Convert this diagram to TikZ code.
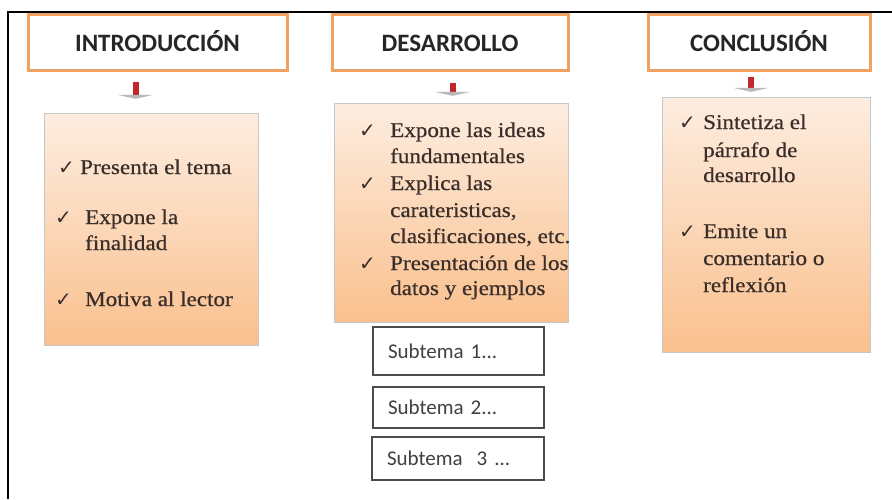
\documentclass[tikz,border=0pt]{standalone}
\usepackage{fontspec}
\setmainfont{Liberation Serif}[FakeStretch=1.1,FakeBold=0.6]
\newfontfamily\headfont{Carlito}
\newfontfamily\tickfont{DejaVu Sans}
\usetikzlibrary{arrows.meta}

\definecolor{boxorange}{HTML}{EFA262}
\definecolor{peachtop}{HTML}{FDEDE0}
\definecolor{peachbot}{HTML}{FAC08E}
\definecolor{arrowred}{HTML}{C1272D}
\definecolor{bodytext}{HTML}{3A2E2A}

\tikzset{
  head/.style={draw=boxorange, line width=3pt, fill=white, text=black!85,
    font=\headfont\bfseries\fontsize{25}{28}\selectfont, minimum height=56pt,
    text height=22pt, text depth=4pt},
  body/.style={draw=gray!45, top color=peachtop, bottom color=peachbot},
  item/.style={anchor=base west, inner sep=0pt, text=bodytext,
    font=\fontsize{21}{26}\selectfont},
  tick/.style={anchor=base west, inner sep=0pt, text=bodytext,
    font=\tickfont\fontsize{20}{20}\selectfont},
  sub/.style={draw=black!70, line width=1.2pt, fill=white, text=black!75,
    font=\headfont\fontsize{21}{22}\selectfont, align=left, inner xsep=15pt},
  link/.style={arrowred, line width=6pt,
    -{Triangle[width=36pt,length=4pt,color=gray!55]}}
}

\begin{document}
\begin{tikzpicture}[x=1pt,y=-1pt]
\useasboundingbox (0,0) rectangle (892,499);
\draw[line width=1.5pt] (8,499) -- (8,12) -- (892,12);

% encabezados
\node[head, minimum width=259pt] (intro) at (157.5,42) {INTRODUCCIÓN};
\node[head, minimum width=236pt] (desa) at (450,42) {DESARROLLO};
\node[head, minimum width=222pt] (concl) at (759,42) {CONCLUSIÓN};

% cuerpos
\node[body, minimum width=214pt, minimum height=232pt] (introbody) at (151,229) {};
\node[body, minimum width=234pt, minimum height=219pt] (desabody) at (451,212.5) {};
\node[body, minimum width=208pt, minimum height=255pt] (conclbody) at (766,224.5) {};

% flechas
\draw[link, shorten <=10pt, shorten >=14pt] ([xshift=-22pt]intro.south) -- ([xshift=-22pt]intro.south |- introbody.north);
\draw[link, shorten <=11pt, shorten >=7pt] ([xshift=2.5pt]desa.south) -- ([xshift=2.5pt]desa.south |- desabody.north);
\draw[link, shorten <=5pt, shorten >=5pt] ([xshift=-8pt]concl.south) -- ([xshift=-8pt]concl.south |- conclbody.north);

% vinetas
\foreach \x/\y [count=\i] in {58/174, 55/224, 55/306, 359/137, 359/190, 359/270, 679/129, 679/238}
  \node[tick] (tick\i) at (\x,\y) {✓};

% textos
\foreach \x/\y/\txt [count=\i] in {
  80/174/Presenta el tema, 85/224/Expone la, 85/250/finalidad, 85/306/Motiva al lector,
  390/137/Expone las ideas, 390/163/fundamentales, 390/190/Explica las,
  390/217/{carateristicas,}, 390/243/{clasificaciones, etc.},
  390/270/Presentación de los, 390/295/datos y ejemplos,
  703/129/Sintetiza el, 703/157/párrafo de, 703/182/desarrollo,
  703/238/Emite un, 703/265/comentario o, 703/292/reflexión}
  \node[item] (line\i) at (\x,\y) {\txt};

% subtemas
\node[sub, text width=141pt, minimum height=48pt] (sub1) at (458.5,351) {Subtema 1...};
\node[sub, text width=141pt, minimum height=41pt] (sub2) at (458.5,407.5) {Subtema 2...};
\node[sub, text width=142pt, minimum height=43pt] (sub3) at (458,458.5) {Subtema~~3 ...};
\end{tikzpicture}
\end{document}
